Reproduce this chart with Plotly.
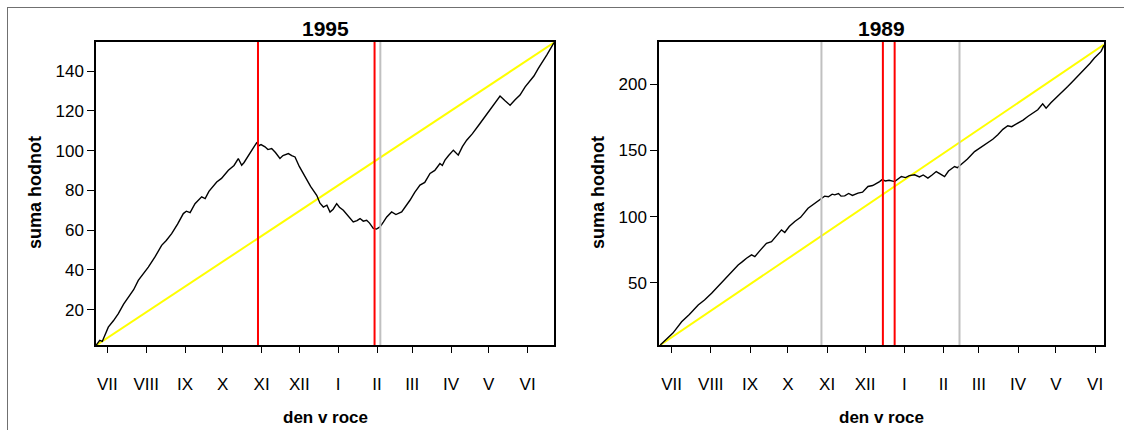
import plotly.graph_objects as go

W, H = 1124, 430

# ---------------- data ----------------
month_labels = ["VII", "VIII", "IX", "X", "XI", "XII", "I", "II", "III", "IV", "V", "VI"]
month_tick_days = [9, 40, 71, 101, 132, 162, 193, 224, 252, 283, 313, 344]

days_1995 = [0, 3, 5, 9.8, 14, 17.8, 22, 25.7, 30, 33.7, 38, 41.7, 47, 52.3, 56, 60.3, 65, 69.6,
             72, 75, 78.9, 81, 84.2, 87, 90, 96.2, 100, 105.5, 110, 113.4, 116.1, 118, 121.4, 125,
             128, 130, 131.5, 134.7, 137, 140, 143, 146.6, 149, 153.3, 156, 158.6, 162, 166.6, 171,
             175.9, 178.5, 181.2, 184, 186.5, 189, 191.8, 194, 197.1, 201, 205, 208, 210.4, 213,
             215.7, 218, 221, 223.5, 226.3, 229, 231.7, 235.6, 239, 243.6, 247, 250.2, 254, 258.2,
             262, 266.2, 270, 274.1, 276, 278.1, 281, 284.8, 288.7, 292, 295.4, 300, 306, 310, 314,
             318, 322, 326, 330, 334, 337.9, 342, 345.9, 349, 352.5, 356, 359.2, 362, 365]
sum_1995 = [2.0, 4.5, 4.0, 11.2, 14.5, 18.0, 22.8, 26.3, 30.0, 34.7, 38.0, 41.4, 46.5, 52.3, 54.8,
            58.2, 63.0, 68.3, 69.5, 68.8, 73.3, 74.5, 76.7, 75.8, 79.5, 84.2, 86.0, 90.1, 92.5, 96.0,
            92.6, 94.0, 97.7, 101.0, 103.9, 102.5, 103.0, 101.9, 100.5, 101.0, 99.0, 96.0, 97.5,
            98.5, 97.5, 96.8, 92.0, 86.7, 82.0, 77.5, 73.5, 71.6, 72.5, 69.1, 70.5, 73.3, 71.5, 70.0,
            67.0, 64.1, 64.8, 65.8, 64.5, 64.9, 63.5, 60.8, 60.5, 61.6, 64.0, 66.6, 69.1, 67.8, 69.1,
            72.0, 75.0, 79.0, 82.6, 84.0, 88.5, 90.0, 93.5, 92.5, 95.2, 97.5, 100.2, 97.7, 102.0,
            105.2, 108.5, 113.6, 117.0, 120.3, 124.0, 127.4, 125.0, 122.8, 125.5, 127.9, 132.0,
            135.4, 137.5, 141.3, 144.5, 148.0, 151.0, 154.3]
mean_days_1995 = [0, 365]
mean_sum_1995 = [2.0, 154.3]
red_days_1995 = [129.1, 222.0]
gray_days_1995 = [226.6]
yticks_1995 = [20, 40, 60, 80, 100, 120, 140]

days_1989 = [0, 5, 10, 16.9, 23, 30, 35, 40.6, 46, 52.4, 57, 61.6, 65, 68.2, 72.2, 74.8, 79, 84, 88,
             92, 95.9, 98.5, 102, 106.4, 111, 116.9, 122, 127.5, 130, 133, 136, 138, 141, 143, 145.9,
             149, 152, 156.4, 160, 164.3, 168, 173.5, 175.5, 178, 181, 185.4, 188, 190.7, 194, 197,
             201.2, 205, 208, 211.7, 215, 218.3, 221, 224.9, 228, 232.8, 235, 238, 243, 248.6, 253,
             259.1, 263, 267, 271, 274.9, 278, 282.8, 287, 290.7, 294, 298.6, 302.5, 305.2, 309,
             313.1, 318, 322.3, 326, 330.2, 335.5, 340, 343.4, 348.7, 351]
sum_1989 = [3.0, 7.2, 12.0, 20.6, 26.0, 33.3, 37.0, 42.1, 47.5, 54.7, 58.5, 63.5, 66.0, 68.6, 71.1,
            69.8, 74.5, 79.9, 81.1, 86.0, 90.0, 88.0, 92.5, 96.3, 99.5, 106.4, 110.0, 114.0, 115.5,
            115.0, 117.0, 116.5, 117.5, 115.5, 115.7, 117.5, 116.0, 117.8, 118.5, 122.8, 123.5,
            126.5, 128.0, 127.0, 127.5, 126.5, 128.5, 130.3, 129.5, 131.0, 131.6, 130.0, 131.5,
            129.1, 131.5, 134.1, 132.5, 130.3, 134.5, 137.9, 137.0, 139.2, 143.5, 149.2, 152.0,
            155.6, 158.5, 161.9, 166.0, 168.7, 168.0, 170.7, 173.0, 175.7, 178.0, 180.8, 185.3,
            182.0, 186.0, 189.6, 194.0, 198.4, 202.0, 206.0, 211.0, 216.0, 219.9, 224.9, 229.5]
mean_days_1989 = [0, 351]
mean_sum_1989 = [3.0, 230.0]
red_days_1989 = [176.1, 185.4]
gray_days_1989 = [127.5, 236.7]
yticks_1989 = [50, 100, 150, 200]

# ---------------- layout helpers ----------------
FONT = "Liberation Sans, Arial, sans-serif"


def px_x(p):
    return p / W


def px_y(p):
    return 1 - p / H


left_box = (96, 554)
right_box = (659, 1104)
top_px, bottom_px = 42, 345

fig = go.Figure()

panels = [
    dict(days=days_1995, sums=sum_1995, mdays=mean_days_1995, msums=mean_sum_1995,
         red=red_days_1995, gray=gray_days_1995, xa="x", ya="y", xr=[0, 365], yr=[2.2, 154.6],
         yt=yticks_1995, box=left_box, title="1995"),
    dict(days=days_1989, sums=sum_1989, mdays=mean_days_1989, msums=mean_sum_1989,
         red=red_days_1989, gray=gray_days_1989, xa="x2", ya="y2", xr=[-1, 351], yr=[3, 232],
         yt=yticks_1989, box=right_box, title="1989"),
]

shapes = []
annotations = []

for i, p in enumerate(panels):
    fig.add_trace(go.Scatter(x=p["mdays"], y=p["msums"], mode="lines",
                             line=dict(color="#ffff00", width=2), xaxis=p["xa"], yaxis=p["ya"],
                             showlegend=False, hoverinfo="skip"))
    fig.add_trace(go.Scatter(x=p["days"], y=p["sums"], mode="lines",
                             line=dict(color="black", width=1.4), xaxis=p["xa"], yaxis=p["ya"],
                             showlegend=False))
    for d in p["gray"]:
        shapes.append(dict(type="line", xref=p["xa"], yref=p["ya"] + " domain", x0=d, x1=d,
                           y0=0, y1=1, line=dict(color="#c0c0c0", width=2), layer="above"))
    for d in p["red"]:
        shapes.append(dict(type="line", xref=p["xa"], yref=p["ya"] + " domain", x0=d, x1=d,
                           y0=0, y1=1, line=dict(color="#ff0000", width=2), layer="above"))

    sfx = "" if i == 0 else "2"
    xdom = [px_x(p["box"][0]), px_x(p["box"][1])]
    ydom = [px_y(bottom_px), px_y(top_px)]
    fig.update_layout(**{
        "xaxis" + sfx: dict(domain=xdom, range=p["xr"], anchor=p["ya"], tickmode="array",
                            tickvals=month_tick_days, ticktext=month_labels, ticks="outside",
                            ticklen=6, tickwidth=1, tickcolor="black", showline=True,
                            linecolor="black", linewidth=1.5, mirror=True, showgrid=False,
                            zeroline=False, ticklabelstandoff=17,
                            tickfont=dict(family=FONT, size=17, color="black")),
        "yaxis" + sfx: dict(domain=ydom, range=p["yr"], anchor=p["xa"], tickmode="array",
                            tickvals=p["yt"], ticks="outside", ticklen=7, tickwidth=1,
                            tickcolor="black", showline=True, linecolor="black", linewidth=1.5,
                            mirror=True, showgrid=False, zeroline=False,
                            tickfont=dict(family=FONT, size=17, color="black")),
    })
    cx = (p["box"][0] + p["box"][1]) / 2
    annotations.append(dict(text="<b>" + p["title"] + "</b>", x=px_x(cx), y=px_y(28),
                            xref="paper", yref="paper", showarrow=False, xanchor="center",
                            yanchor="middle", font=dict(family=FONT, size=21, color="black")))
    annotations.append(dict(text="<b>den v roce</b>", x=px_x(cx), y=px_y(417),
                            xref="paper", yref="paper", showarrow=False, xanchor="center",
                            yanchor="middle", font=dict(family=FONT, size=17, color="black")))
    ylab_x = 35 if i == 0 else 598
    annotations.append(dict(text="<b>suma hodnot</b>", x=px_x(ylab_x), y=px_y(193),
                            xref="paper", yref="paper", showarrow=False, xanchor="center",
                            yanchor="middle", textangle=-90,
                            font=dict(family=FONT, size=18, color="black")))

# outer frame lines (top and left)
shapes.append(dict(type="line", xref="paper", yref="paper", x0=px_x(7), x1=1, y0=px_y(7.5),
                   y1=px_y(7.5), line=dict(color="#707070", width=1)))
shapes.append(dict(type="line", xref="paper", yref="paper", x0=px_x(7.5), x1=px_x(7.5),
                   y0=px_y(7), y1=0, line=dict(color="#707070", width=1)))

fig.update_layout(width=W, height=H, margin=dict(l=0, r=0, t=0, b=0),
                  paper_bgcolor="white", plot_bgcolor="white", shapes=shapes,
                  annotations=annotations, showlegend=False,
                  font=dict(family=FONT, color="black"))

fig.write_html("out.html")
